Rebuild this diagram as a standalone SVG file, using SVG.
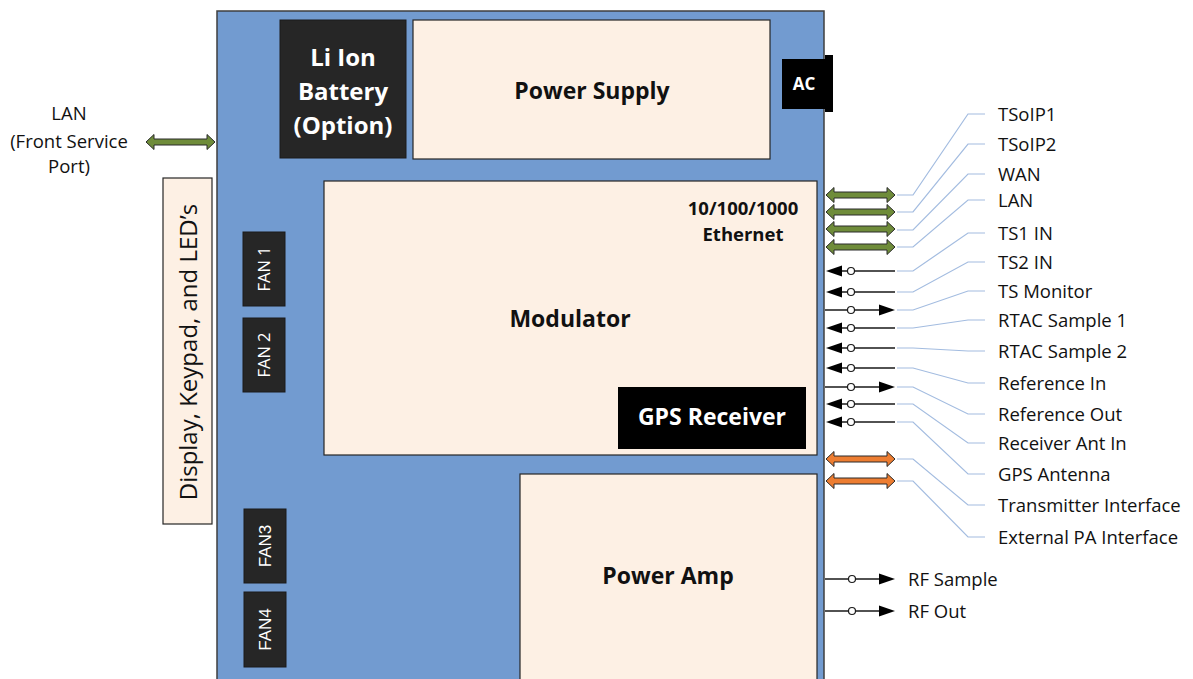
<svg xmlns="http://www.w3.org/2000/svg" xmlns:xlink="http://www.w3.org/1999/xlink" width="1193" height="679" viewBox="0 0 1193 679">
<style>
.chassis{fill:#729BD0;stroke:#3F3F3F;stroke-width:1.5}
.beige{fill:#FDF0E4;stroke:#262626;stroke-width:1.2}
.dark{fill:#262626;stroke:#1A1A1A;stroke-width:1}
.black{fill:#000}
.bt{font-family:"Open Sans",sans-serif;font-weight:700;font-size:23px;text-anchor:middle;fill:#111}
.wt{font-family:"Open Sans",sans-serif;font-weight:700;font-size:23px;text-anchor:middle;fill:#fff}
.bat{font-size:24px}
.ac{font-size:17px}
.eth{font-size:18.5px}
.fan{font-family:"Open Sans",sans-serif;font-size:16.5px;text-anchor:middle;fill:#fff}
.fan2{font-family:"Liberation Sans",Arial,sans-serif;font-size:17px;text-anchor:middle;fill:#fff}
.lbl{font-family:"Open Sans",sans-serif;font-size:18.5px;fill:#111}
.disp{font-size:24px;text-anchor:middle}
.green{fill:#6F8C3A;stroke:#2A2A2A;stroke-width:1}
.orange{fill:#ED7D31;stroke:#2A2A2A;stroke-width:1}
.wire{stroke:#1A1A1A;stroke-width:1.5;fill:none}
.dot{fill:#fff;stroke:#1A1A1A;stroke-width:1.2}
.lead{stroke:#A3BCE0;stroke-width:1.2;fill:none}
</style>
<defs>
<path id="dbl" d="M0,0 L8,-7.5 L8,-3 L61,-3 L61,-7.5 L69,0 L61,7.5 L61,3 L8,3 L8,7.5 Z"/>
<path id="hl" d="M0,0 L16,-5.5 L16,5.5 Z"/>
<path id="hr" d="M0,0 L-16,-5.5 L-16,5.5 Z"/>
</defs>

<g id="chassis"><rect class="chassis" x="217" y="11" width="607" height="690"/></g>
<g id="battery"><rect class="dark" x="280" y="20" width="126" height="138"/>
<text class="wt bat" x="343" y="66">Li Ion</text>
<text class="wt bat" x="343" y="100">Battery</text>
<text class="wt bat" x="343" y="134">(Option)</text></g>
<g id="power-supply"><rect class="beige" x="413" y="20" width="357" height="139"/>
<text class="bt" x="592" y="99">Power Supply</text></g>
<g id="ac"><rect class="black" x="782" y="59" width="44" height="50"/><rect class="black" x="825" y="55" width="8" height="57"/>
<text class="wt ac" x="804" y="90">AC</text></g>
<g id="display"><rect class="beige" x="163" y="178" width="49" height="346"/>
<text class="lbl disp" transform="translate(197,352) rotate(-90)">Display, Keypad, and LED’s</text></g>
<g id="fan1"><rect class="dark" x="243" y="232" width="42" height="74"/><text class="fan" transform="translate(270,269) rotate(-90)">FAN 1</text></g>
<g id="fan2"><rect class="dark" x="243" y="318" width="42" height="74"/><text class="fan" transform="translate(270,355) rotate(-90)">FAN 2</text></g>
<g id="fan3"><rect class="dark" x="244" y="509" width="42" height="74"/><text class="fan2" transform="translate(271,546) rotate(-90)">FAN3</text></g>
<g id="fan4"><rect class="dark" x="244" y="592" width="42" height="75"/><text class="fan2" transform="translate(271,629.5) rotate(-90)">FAN4</text></g>
<g id="modulator"><rect class="beige" x="324" y="181" width="493" height="274"/>
<text class="bt" x="570" y="327">Modulator</text>
<text class="bt eth" x="743" y="215">10/100/1000</text>
<text class="bt eth" x="743" y="241">Ethernet</text></g>
<g id="gps-receiver"><rect class="black" x="618" y="387" width="188" height="62"/>
<text class="wt" x="712" y="425">GPS Receiver</text></g>
<g id="power-amp"><rect class="beige" x="520" y="474" width="297" height="220"/>
<text class="bt" x="668" y="584">Power Amp</text></g>

<g id="lan-front"><text class="lbl" x="69" y="120" text-anchor="middle">LAN</text>
<text class="lbl" x="69" y="148" text-anchor="middle">(Front Service</text>
<text class="lbl" x="69" y="173" text-anchor="middle">Port)</text></g>

<g id="connectors">
<use xlink:href="#dbl" class="green" x="146" y="142"/>
<use xlink:href="#dbl" class="green" x="826" y="195"/>
<use xlink:href="#dbl" class="green" x="826" y="212"/>
<use xlink:href="#dbl" class="green" x="826" y="229"/>
<use xlink:href="#dbl" class="green" x="826" y="247"/>
<use xlink:href="#dbl" class="orange" x="826" y="459"/>
<use xlink:href="#dbl" class="orange" x="826" y="481"/>

<path class="wire" d="M836,271H895M836,292H895M825,310H882M836,328H895M836,348H895M836,368H895M825,387H882M836,404H895M836,422H895M825,579H882M825,611H882"/>
<use xlink:href="#hl" x="826" y="271"/>
<use xlink:href="#hl" x="826" y="292"/>
<use xlink:href="#hr" x="895" y="310"/>
<use xlink:href="#hl" x="826" y="328"/>
<use xlink:href="#hl" x="826" y="348"/>
<use xlink:href="#hl" x="826" y="368"/>
<use xlink:href="#hr" x="895" y="387"/>
<use xlink:href="#hl" x="826" y="404"/>
<use xlink:href="#hl" x="826" y="422"/>
<use xlink:href="#hr" x="895" y="579"/>
<use xlink:href="#hr" x="895" y="611"/>
<circle class="dot" cx="851" cy="271" r="3.5"/>
<circle class="dot" cx="851" cy="292" r="3.5"/>
<circle class="dot" cx="851" cy="310" r="3.5"/>
<circle class="dot" cx="851" cy="328" r="3.5"/>
<circle class="dot" cx="851" cy="348" r="3.5"/>
<circle class="dot" cx="851" cy="368" r="3.5"/>
<circle class="dot" cx="851" cy="387" r="3.5"/>
<circle class="dot" cx="851" cy="404" r="3.5"/>
<circle class="dot" cx="851" cy="422" r="3.5"/>
<circle class="dot" cx="852" cy="579" r="3.5"/>
<circle class="dot" cx="852" cy="611" r="3.5"/>

<polyline class="lead" points="897,195 913,195 968,114 985,114"/>
<polyline class="lead" points="897,212 913,212 968,144 985,144"/>
<polyline class="lead" points="897,230 913,230 968,174 985,174"/>
<polyline class="lead" points="897,247 913,247 968,200 985,200"/>
<polyline class="lead" points="897,271 913,271 968,233 985,233"/>
<polyline class="lead" points="897,292 913,292 968,262 985,262"/>
<polyline class="lead" points="897,310 913,310 968,291 985,291"/>
<polyline class="lead" points="897,328 913,328 968,320 985,320"/>
<polyline class="lead" points="897,348 913,348 968,351 985,351"/>
<polyline class="lead" points="897,368 913,368 968,383 985,383"/>
<polyline class="lead" points="897,387 913,387 968,414 985,414"/>
<polyline class="lead" points="897,404 913,404 968,443 985,443"/>
<polyline class="lead" points="897,422 913,422 968,474 985,474"/>
<polyline class="lead" points="897,459 913,459 968,505 985,505"/>
<polyline class="lead" points="897,481 913,481 968,537 985,537"/>
</g>

<g id="labels">
<text class="lbl" x="998" y="121">TSoIP1</text>
<text class="lbl" x="998" y="151">TSoIP2</text>
<text class="lbl" x="998" y="181">WAN</text>
<text class="lbl" x="998" y="207">LAN</text>
<text class="lbl" x="998" y="240">TS1 IN</text>
<text class="lbl" x="998" y="269">TS2 IN</text>
<text class="lbl" x="998" y="298">TS Monitor</text>
<text class="lbl" x="998" y="327">RTAC Sample 1</text>
<text class="lbl" x="998" y="358">RTAC Sample 2</text>
<text class="lbl" x="998" y="390">Reference In</text>
<text class="lbl" x="998" y="421">Reference Out</text>
<text class="lbl" x="998" y="450">Receiver Ant In</text>
<text class="lbl" x="998" y="481">GPS Antenna</text>
<text class="lbl" x="998" y="512">Transmitter Interface</text>
<text class="lbl" x="998" y="544">External PA Interface</text>
<text class="lbl" x="908" y="586">RF Sample</text>
<text class="lbl" x="908" y="618">RF Out</text>
</g>
</svg>
